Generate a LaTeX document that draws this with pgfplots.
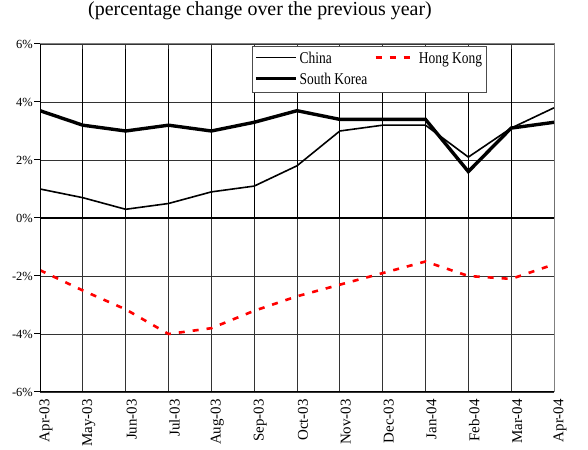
\documentclass[border=0pt]{standalone}
\usepackage{fontspec}
\setmainfont{Liberation Serif}
\usepackage{graphicx}
\usepackage{pgfplots}
\pgfplotsset{compat=1.18}
\newcommand{\cond}[1]{\scalebox{0.82}[1]{#1}}
\begin{document}
\begin{tikzpicture}
\useasboundingbox (0,0) rectangle (588bp,450bp);
\node[anchor=base, font=\fontsize{20}{24}\selectfont] at (260bp,434bp) {(percentage change over the previous year)};
\begin{axis}[
  at={(40bp,58bp)}, anchor=south west, scale only axis,
  width=514bp, height=348bp,
  xmin=0, xmax=12, ymin=-6, ymax=6,
  xtick={0,...,12},
  xticklabels={Apr-03,May-03,Jun-03,Jul-03,Aug-03,Sep-03,Oct-03,Nov-03,Dec-03,Jan-04,Feb-04,Mar-04,Apr-04},
  ytick={-6,-4,...,6},
  yticklabels={-6\%,-4\%,-2\%,0\%,2\%,4\%,6\%},
  xticklabel style={rotate=90, anchor=east, font=\fontsize{15}{15}\selectfont, inner sep=1bp, yshift=-6bp},
  yticklabel style={font=\fontsize{12.5}{12.5}\selectfont, inner sep=1bp},
  grid=major, major grid style={black!80, line width=0.8bp},
  axis line style={black!50, line width=1bp},
  tick align=outside, major tick length=6bp,
  xtick pos=bottom, ytick pos=left,
  x tick style={draw=none},
  y tick style={black, line width=1bp},
  legend style={at={(0.412,0.994)}, anchor=north west, draw=black!70, line width=0.8bp,
    fill=white, font=\fontsize{16.5}{16.5}\selectfont, legend columns=2,
    inner xsep=2bp, inner ysep=4bp, row sep=4bp,
    /tikz/every even column/.append style={column sep=5bp}},
  legend cell align=left,
  legend image code/.code={\draw[#1] (0bp,1.5bp) -- (40bp,1.5bp);},
]
\addplot[black, line width=1.6bp] coordinates {
(0,1.0) (1,0.7) (2,0.3) (3,0.5) (4,0.9) (5,1.1) (6,1.8) (7,3.0) (8,3.2) (9,3.2) (10,2.1) (11,3.1) (12,3.8)};
\addlegendentry{\cond{China}}
\addplot[red, line width=2.6bp, dash pattern=on 6bp off 8bp] coordinates {
(0,-1.8) (1,-2.5) (2,-3.15) (3,-4.0) (4,-3.8) (5,-3.2) (6,-2.7) (7,-2.3) (8,-1.9) (9,-1.5) (10,-2.0) (11,-2.1) (12,-1.6)};
\addlegendentry{\cond{Hong Kong}}
\addplot[black, line width=3.4bp] coordinates {
(0,3.7) (1,3.2) (2,3.0) (3,3.2) (4,3.0) (5,3.3) (6,3.7) (7,3.4) (8,3.4) (9,3.4) (10,1.6) (11,3.1) (12,3.3)};
\addlegendentry{\cond{South Korea}}
\draw[black, line width=1.3bp] (rel axis cs:0,0) -- (rel axis cs:1,0);
\draw[black, line width=2.8bp] (axis cs:0,0) -- (axis cs:12,0);
\draw[black, line width=2.8bp] (axis cs:0,-6) -- (axis cs:0,6);
\pgfplotsinvokeforeach{0,...,12}{\draw[black, line width=1bp] (axis cs:#1,0) -- ++(0,-5bp);}
\end{axis}
\end{tikzpicture}
\end{document}
